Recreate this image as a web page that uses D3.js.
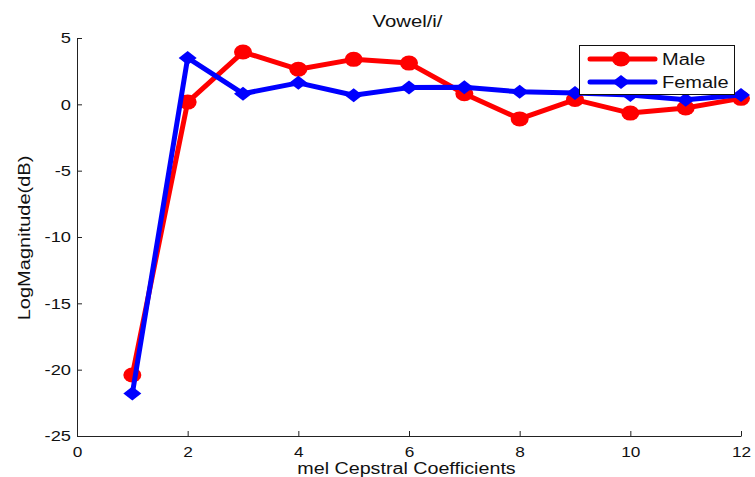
<!DOCTYPE html>
<html><head><meta charset="utf-8">
<script src="https://cdn.jsdelivr.net/npm/d3@7"></script>
<style>body{margin:0;background:#fff}svg{display:block}text{font-family:"Liberation Sans",Arial,sans-serif}</style>
</head><body><svg id="c" width="755" height="477"></svg>
<script>
const coefficients = [1,2,3,4,5,6,7,8,9,10,11,12];
const maleValues   = [-20.4, 0.17, 3.94, 2.64, 3.39, 3.11, 0.8, -1.1, 0.36, -0.66, -0.27, 0.45];
const femaleValues = [-21.8, 3.5, 0.8, 1.62, 0.68, 1.26, 1.28, 0.94, 0.86, 0.7, 0.35, 0.7];
const xTicks = [0,2,4,6,8,10,12];
const yTicks = [5,0,-5,-10,-15,-20,-25];
const seriesNames = ["Male","Female"];
const seriesColors = ["#ff0000","#0000ff"];

const svg = d3.select("#c");
const m = {l:77, r:741, t:38, b:436};
const x = d3.scaleLinear().domain([0,12]).range([m.l,m.r]);
const y = d3.scaleLinear().domain([-25,5]).range([m.b,m.t]);

function stretch(sel, f){
  sel.each(function(){
    const w = this.getComputedTextLength();
    d3.select(this).attr("textLength", w*f).attr("lengthAdjust","spacingAndGlyphs");
  });
  return sel;
}

// axes
const xa = svg.append("g").attr("transform",`translate(0,${m.b})`)
  .call(d3.axisBottom(x).tickValues(xTicks).tickFormat(d=>String(d)).tickSizeInner(-5).tickSizeOuter(0).tickPadding(10));
const ya = svg.append("g").attr("transform",`translate(${m.l},0)`)
  .call(d3.axisLeft(y).tickValues(yTicks).tickFormat(d=>String(d)).tickSizeInner(-5).tickSizeOuter(0).tickPadding(6));
[xa,ya].forEach(a=>{
  a.select(".domain").attr("stroke","#222").attr("stroke-width",1);
  a.selectAll(".tick line").attr("stroke","#222");
  a.selectAll(".tick text").attr("font-size",15).attr("fill","#111").attr("font-family","Liberation Sans, Arial, sans-serif");
});
xa.selectAll(".tick text").attr("dy","0.71em");
stretch(xa.selectAll(".tick text"),1.15);
stretch(ya.selectAll(".tick text"),1.22);

stretch(svg.append("text").attr("x",407.5).attr("y",27).attr("text-anchor","middle")
  .attr("font-size",16).attr("fill","#111").text("Vowel/i/"),1.27);
stretch(svg.append("text").attr("x",406.5).attr("y",474).attr("text-anchor","middle")
  .attr("font-size",16).attr("fill","#111").text("mel Cepstral Coefficients"),1.23);
stretch(svg.append("text").attr("transform","translate(30,238) rotate(-90)").attr("text-anchor","middle")
  .attr("font-size",16).attr("fill","#111")
  .text("LogMagnitude(dB)"),1.25);

const line = d3.line().x((d,i)=>x(coefficients[i])).y(d=>y(d));
const diamond = "M0,-7L9,0L0,7L-9,0Z";

function drawSeries(vals,color,kind){
  const g = svg.append("g");
  g.append("path").datum(vals).attr("d",line).attr("fill","none").attr("stroke",color)
    .attr("stroke-width",5).attr("stroke-linejoin","round");
  if(kind==="circle"){
    g.selectAll("ellipse").data(vals).join("ellipse").attr("cx",(d,i)=>x(coefficients[i])).attr("cy",d=>y(d))
      .attr("rx",9).attr("ry",7.5).attr("fill",color);
  } else {
    g.selectAll("path.m").data(vals).join("path").attr("class","m").attr("d",diamond)
      .attr("transform",(d,i)=>`translate(${x(coefficients[i])},${y(d)})`).attr("fill",color);
  }
}
drawSeries(maleValues,seriesColors[0],"circle");
drawSeries(femaleValues,seriesColors[1],"diamond");

// legend
const lg = svg.append("g");
lg.append("rect").attr("x",579.5).attr("y",45.5).attr("width",155).attr("height",49)
  .attr("fill","#fff").attr("stroke","#111").attr("stroke-width",1);
seriesNames.forEach((n,i)=>{
  const yy = 59 + i*23;
  lg.append("line").attr("x1",590).attr("x2",655).attr("y1",yy).attr("y2",yy)
    .attr("stroke",seriesColors[i]).attr("stroke-width",5).attr("stroke-linecap","round");
  if(i===0) lg.append("ellipse").attr("cx",621).attr("cy",yy).attr("rx",9).attr("ry",7.5).attr("fill",seriesColors[i]);
  else lg.append("path").attr("d",diamond).attr("transform",`translate(621,${yy})`).attr("fill",seriesColors[i]);
  stretch(lg.append("text").attr("x",662).attr("y",yy+6).attr("font-size",16).attr("fill","#111").text(n),1.25);
});
</script></body></html>
